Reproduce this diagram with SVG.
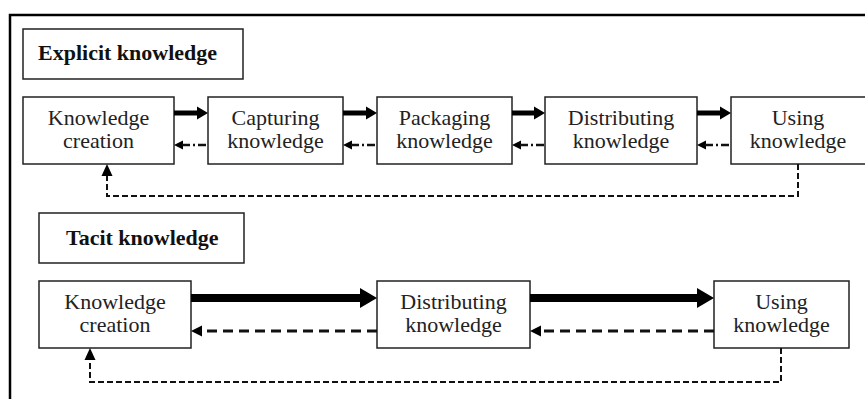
<svg xmlns="http://www.w3.org/2000/svg" width="865" height="399" viewBox="0 0 865 399">
  <style>
    .box { fill: #ffffff; stroke: #222222; stroke-width: 1.5; }
    .lbl { font-family: "Liberation Serif", "Times New Roman", serif; font-size: 22px; fill: #222222; text-anchor: middle; }
    .title { font-family: "Liberation Serif", "Times New Roman", serif; font-size: 22px; font-weight: bold; fill: #111111; }
    .frame { stroke: #000000; stroke-width: 2.5; fill: none; }
    .fwd1 { stroke: #000000; stroke-width: 5; fill: none; }
    .back1 { stroke: #111111; stroke-width: 2.5; fill: none; stroke-dasharray: 8 3 2 3; }
    .fwd2 { stroke: #000000; stroke-width: 8; fill: none; }
    .back2 { stroke: #111111; stroke-width: 3; fill: none; stroke-dasharray: 10 6; }
    .loop { stroke: #111111; stroke-width: 2; fill: none; stroke-dasharray: 6 3; }
    .head { fill: #000000; }
  </style>

  <rect width="865" height="399" fill="#ffffff"/>

  <!-- outer frame: top and left edges only -->
  <path class="frame" d="M10,399 V15 H865"/>

  <!-- section titles -->
  <g id="explicit-title">
    <rect class="box" x="23" y="29" width="220" height="50"/>
    <text class="title" x="38" y="60">Explicit knowledge</text>
  </g>
  <g id="tacit-title">
    <rect class="box" x="39" y="213" width="205" height="50"/>
    <text class="title" x="66" y="245">Tacit knowledge</text>
  </g>

  <!-- explicit chain -->
  <g id="e-creation">
    <rect class="box" x="23" y="97" width="151" height="67"/>
    <text class="lbl" x="98.5" y="125">Knowledge</text>
    <text class="lbl" x="98.5" y="148">creation</text>
  </g>
  <g id="e-capturing">
    <rect class="box" x="208" y="97" width="135" height="67"/>
    <text class="lbl" x="275.5" y="125">Capturing</text>
    <text class="lbl" x="275.5" y="148">knowledge</text>
  </g>
  <g id="e-packaging">
    <rect class="box" x="377" y="97" width="135" height="67"/>
    <text class="lbl" x="444.5" y="125">Packaging</text>
    <text class="lbl" x="444.5" y="148">knowledge</text>
  </g>
  <g id="e-distributing">
    <rect class="box" x="545" y="97" width="152" height="67"/>
    <text class="lbl" x="621" y="125">Distributing</text>
    <text class="lbl" x="621" y="148">knowledge</text>
  </g>
  <g id="e-using">
    <rect class="box" x="731" y="97" width="140" height="67"/>
    <text class="lbl" x="798" y="125">Using</text>
    <text class="lbl" x="798" y="148">knowledge</text>
  </g>

  <!-- tacit chain -->
  <g id="t-creation">
    <rect class="box" x="39" y="281" width="152" height="67"/>
    <text class="lbl" x="115" y="308.5">Knowledge</text>
    <text class="lbl" x="115" y="331.5">creation</text>
  </g>
  <g id="t-distributing">
    <rect class="box" x="377" y="281" width="153" height="67"/>
    <text class="lbl" x="453.5" y="308.5">Distributing</text>
    <text class="lbl" x="453.5" y="331.5">knowledge</text>
  </g>
  <g id="t-using">
    <rect class="box" x="714" y="281" width="135" height="67"/>
    <text class="lbl" x="781.5" y="308.5">Using</text>
    <text class="lbl" x="781.5" y="331.5">knowledge</text>
  </g>

  <g id="connectors">
    <!-- explicit: forward flow -->
    <path class="fwd1" d="M174,113 H199"/>
    <polygon class="head" points="197,106.5 208,113 197,119.5"/>
    <path class="fwd1" d="M343,113 H368"/>
    <polygon class="head" points="366,106.5 377,113 366,119.5"/>
    <path class="fwd1" d="M512,113 H536"/>
    <polygon class="head" points="534,106.5 545,113 534,119.5"/>
    <path class="fwd1" d="M697,113 H722"/>
    <polygon class="head" points="720,106.5 731,113 720,119.5"/>

    <!-- explicit: feedback between neighbours -->
    <polygon class="head" points="174,145 183,140.5 183,149.5"/>
    <path class="back1" d="M182,145 H208"/>
    <polygon class="head" points="343,145 352,140.5 352,149.5"/>
    <path class="back1" d="M351,145 H377"/>
    <polygon class="head" points="512,145 521,140.5 521,149.5"/>
    <path class="back1" d="M520,145 H545"/>
    <polygon class="head" points="697,145 706,140.5 706,149.5"/>
    <path class="back1" d="M705,145 H731"/>

    <!-- explicit: loop back from use to creation -->
    <path class="loop" d="M798,164 V196 H107 V174"/>
    <polygon class="head" points="107,164 112.5,176 101.5,176"/>

    <!-- tacit: forward flow -->
    <path class="fwd2" d="M191,298 H362"/>
    <polygon class="head" points="360,288 377,298 360,308"/>
    <path class="fwd2" d="M530,298 H699"/>
    <polygon class="head" points="697,288 714,298 697,308"/>

    <!-- tacit: feedback between neighbours -->
    <polygon class="head" points="191,331 202,325.5 202,336.5"/>
    <path class="back2" d="M377,331 H200"/>
    <polygon class="head" points="530,331 541,325.5 541,336.5"/>
    <path class="back2" d="M714,331 H539"/>

    <!-- tacit: loop back from use to creation -->
    <path class="loop" d="M781,348 V382 H90 V358"/>
    <polygon class="head" points="90,348 95.5,360 84.5,360"/>
  </g>
</svg>
